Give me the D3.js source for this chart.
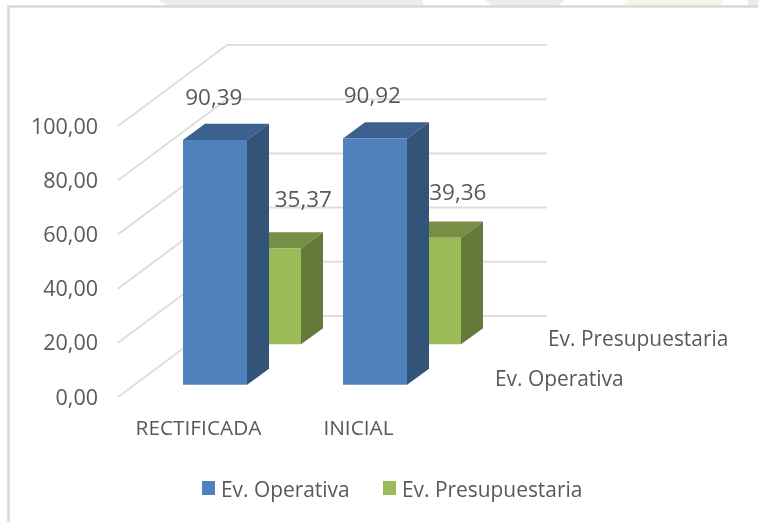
<!DOCTYPE html>
<html><head><meta charset="utf-8">
<script src="https://cdn.jsdelivr.net/npm/d3@7"></script>
<style>html,body{margin:0;padding:0;background:#fff}svg{display:block;filter:blur(.35px)}text{font-family:"Open Sans",sans-serif;fill:#595959}</style>
</head><body><svg id="c" width="758" height="522"></svg>
<script>
const categories = ["RECTIFICADA", "INICIAL"];
const seriesNames = ["Ev. Operativa", "Ev. Presupuestaria"];
const operativa = [90.39, 90.92];
const presupuestaria = [35.37, 39.36];
const labels = {
  "Ev. Operativa": ["90,39", "90,92"],
  "Ev. Presupuestaria": ["35,37", "39,36"]
};
const yTicks = [0, 20, 40, 60, 80, 100];
const seriesValues = [operativa, presupuestaria];

const svg = d3.select("#c");
const origin = {x: 118, y: 397}, depthVec = {x: 109, y: -81};
const x = d3.scaleBand().domain(categories).range([0, 320]).paddingInner(.6).paddingOuter(.3);
const y = d3.scaleLinear().domain([0, 100]).range([0, 271]);
const z = d3.scaleBand().domain(seriesNames).range([0, 1]).paddingInner(.6).paddingOuter(.3);
const P = (px, v, d) => [origin.x + px + d * depthVec.x, origin.y - y(v) + d * depthVec.y];
const B = (px, v, d) => { const p = P(px, v, d); return [Math.round(p[0] + .5), p[1]]; };
const poly = pts => pts.map(p => p.join(",")).join(" ");

// page background fragments and frame
const bg = [[[158,0],[168,6],[423,6],[423,0]],[[485,0],[493,6],[557,6],[565,0]],[[627,0],[622,6],[720,6],[723,0]],[[747,0],[749,6],[758,6],[758,0]]];
const bgCol = ["#e9efe7","#e9efe7","#f3f6ea","#e9efe7"];
svg.selectAll("polygon.bg").data(bg).join("polygon").attr("class","bg").attr("points",poly).attr("fill",(d,i)=>bgCol[i]);
svg.append("path").attr("d","M8.5 522V6.5H758").attr("fill","none").attr("stroke","#d9d9d9").attr("stroke-width",2.5);

// gridlines
const grid = svg.append("g").attr("fill","none").attr("stroke","#dedede").attr("stroke-width",2);
grid.selectAll("polyline").data(yTicks).join("polyline")
  .attr("points", t => poly([P(0,t,0),P(0,t,1),P(320,t,1)]));

// tick labels
svg.append("g").selectAll("text").data(yTicks).join("text")
  .attr("x",98).attr("y",t=>P(0,t,0)[1]-1).attr("text-anchor","end").attr("dominant-baseline","central")
  .attr("font-size",21.5).text(t=>t.toFixed(2).replace(".",","));

// bars, back series first
const faces = {
  "Ev. Operativa": {front:"#4f81bd", top:"#3c618f", side:"#335479"},
  "Ev. Presupuestaria": {front:"#9bbb59", top:"#778f45", side:"#647a3a"}
};
[1,0].forEach(si => {
  const s = seriesNames[si], c = faces[s];
  categories.forEach((cat,i) => {
    const v = seriesValues[si][i];
    const x0 = x(cat), x1 = x0 + x.bandwidth(), d0 = z(s), d1 = d0 + z.bandwidth();
    const g = svg.append("g");
    g.append("polygon").attr("points",poly([B(x0,v,d0),B(x0,v,d1),B(x1,v,d1),B(x1,v,d0)])).attr("fill",c.top);
    g.append("polygon").attr("points",poly([B(x1,0,d0),B(x1,0,d1),B(x1,v,d1),B(x1,v,d0)])).attr("fill",c.side);
    g.append("polygon").attr("points",poly([B(x0,0,d0),B(x1,0,d0),B(x1,v,d0),B(x0,v,d0)])).attr("fill",c.front);
  });
});

// data labels
const labelShift = {
  "Ev. Operativa": [[-0.5,-43.5],[-2,-44]],
  "Ev. Presupuestaria": [[34.5,-50],[29,-46.5]]
};
seriesNames.forEach((s,si) => categories.forEach((cat,i) => {
  const p = P(x(cat)+x.bandwidth()/2, seriesValues[si][i], z(s));
  svg.append("text").attr("x",p[0]+labelShift[s][i][0]).attr("y",p[1]+labelShift[s][i][1])
    .attr("text-anchor","middle").attr("dominant-baseline","central").attr("font-size",22.5).text(labels[s][i]);
}));

// axis labels
svg.append("g").selectAll("text").data(categories).join("text")
  .attr("x",(c,i)=>[198.5,358.5][i]).attr("y",427).attr("text-anchor","middle").attr("dominant-baseline","central")
  .attr("font-size",20.8).text(c=>c);
const depthPos = [[495,378],[548,338]];
svg.append("g").selectAll("text").data(seriesNames).join("text")
  .attr("x",(s,i)=>depthPos[i][0]).attr("y",(s,i)=>depthPos[i][1]-0.5).attr("dominant-baseline","central")
  .attr("font-size",20.9).text(s=>s);

// legend
const legendPos = [202,383];
const lg = svg.append("g").selectAll("g").data(seriesNames).join("g").attr("transform",(s,i)=>`translate(${legendPos[i]},0)`);
lg.append("rect").attr("y",481).attr("width",13).attr("height",14).attr("fill",s=>faces[s].front);
lg.append("text").attr("x",19).attr("y",488.5).attr("dominant-baseline","central").attr("font-size",20.9).text(s=>s);
</script></body></html>
